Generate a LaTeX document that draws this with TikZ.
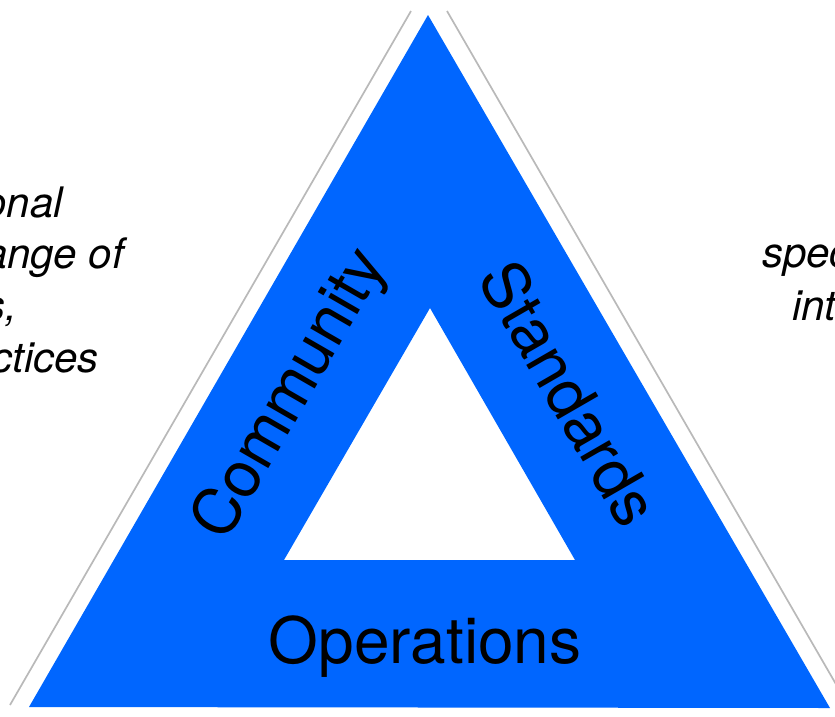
\documentclass[tikz,border=0pt]{standalone}
\usepackage{fontspec}
\setmainfont{TeX Gyre Heros}
\definecolor{triblue}{RGB}{0,102,255}
\definecolor{edgegray}{RGB}{185,185,185}
\tikzset{
  bigtext/.style={inner sep=0pt, font=\fontsize{64}{77}\selectfont, text=black},
  sidetext/.style={inner sep=0pt, font=\fontsize{42}{50}\selectfont\itshape, text=black},
  guide/.style={draw=edgegray, line width=1.7pt},
}
\begin{document}
\begin{tikzpicture}[x=1pt,y=-1pt]
\useasboundingbox (0,0) rectangle (835,716);
% outer blue triangle with white hole
\fill[triblue, even odd rule] (428,15) -- (29,707) -- (830,708) -- cycle
  (430,308) -- (284,560) -- (575,560) -- cycle;
% gray guide lines
\coordinate (lt) at (411,11);
\coordinate (lb) at (10,705);
\coordinate (rt) at (447,11);
\coordinate (rb) at (848,705);
\draw[guide] (lt) -- (lb);
\draw[guide] (rt) -- (rb);
% labels
\node[bigtext, anchor=base] (ops) at (425,663) {Operations};
\node[bigtext, rotate=60] (com) at (292,395) {Community};
\node[bigtext, rotate=-60] (std) at (570,393) {Standards};
% side texts (cut at picture edges)
\node[sidetext, anchor=base east] (l1) at (63,217) {onal};
\node[sidetext, anchor=base east] (l2) at (124,268) {ange of};
\node[sidetext, anchor=base east] (l3) at (17,320) {s,};
\node[sidetext, anchor=base east] (l4) at (99,372) {ctices};
\node[sidetext, anchor=base west] (r1) at (762,267) {spec};
\node[sidetext, anchor=base west] (r2) at (792,320) {int};
\end{tikzpicture}
\end{document}
